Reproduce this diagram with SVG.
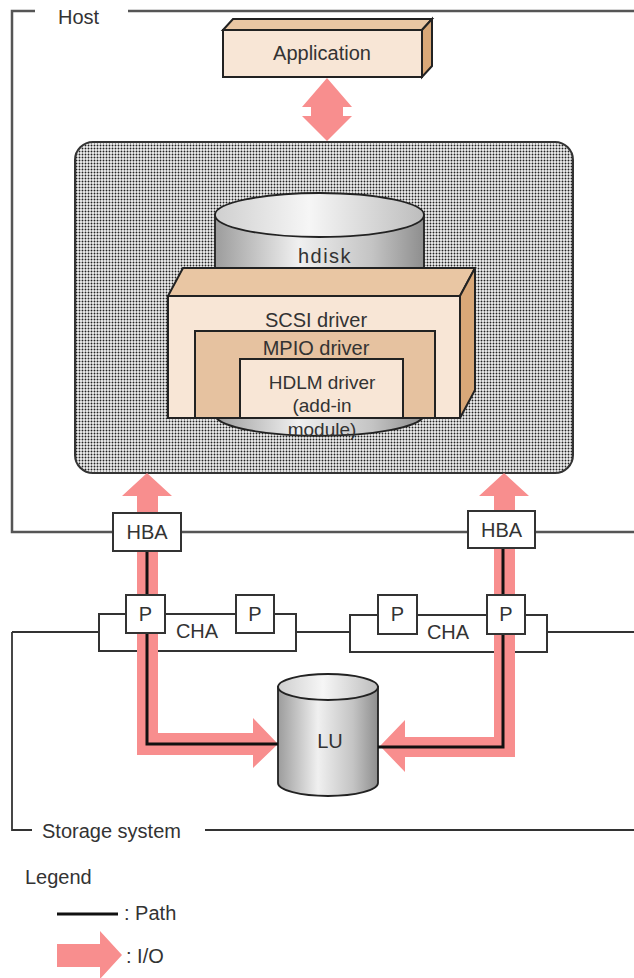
<svg xmlns="http://www.w3.org/2000/svg" width="634" height="978" viewBox="0 0 634 978">
<style>
text{font-family:"Liberation Sans",Arial,sans-serif;font-size:20px;fill:#333}
.c{text-anchor:middle}
.sm{font-size:19px}
.frame{fill:none;stroke:#555;stroke-width:2.5}
.sline{fill:none;stroke:#333;stroke-width:1.8}
.box{fill:#fff;stroke:#333;stroke-width:2}
.front{fill:#f8e6d6;stroke:#222;stroke-width:2}
.top{fill:#e9c6a3;stroke:#222;stroke-width:2}
.side{fill:#d9a878;stroke:#222;stroke-width:2}
.io{fill:#f88e8e}
.path{fill:none;stroke:#111;stroke-width:3}
</style>
<defs>
<pattern id="dots" width="3" height="3" patternUnits="userSpaceOnUse">
<rect width="3" height="3" fill="#f2f2f2"/>
<circle cx="1.5" cy="1.5" r="0.95" fill="#222"/>
</pattern>
<linearGradient id="cylBody" x1="0" y1="0" x2="1" y2="0">
<stop offset="0" stop-color="#9c9c9c"/>
<stop offset="0.4" stop-color="#f0f0f0"/>
<stop offset="0.75" stop-color="#c4c4c4"/>
<stop offset="1" stop-color="#8e8e8e"/>
</linearGradient>
<linearGradient id="cylTop" x1="0" y1="0" x2="1" y2="0">
<stop offset="0" stop-color="#cfcfcf"/>
<stop offset="0.45" stop-color="#f6f6f6"/>
<stop offset="1" stop-color="#bdbdbd"/>
</linearGradient>
</defs>

<g id="host-frame">
<path class="frame" d="M35,11 H12 V532 H113 M181,532 H468 M535,532 H634 M128,11 H634"/>
<text x="58" y="24">Host</text>
</g>

<g id="storage-frame">
<path class="sline" d="M12,632 V830 H32 M205,830 H634 M12,632 H99 M296,632 H350 M547,632 H634"/>
<text x="42" y="838">Storage system</text>
</g>

<g id="application">
<polygon class="top" points="223,30 233,19 432,19 422,30"/>
<polygon class="side" points="422,30 432,19 432,66 422,77"/>
<rect class="front" x="223" y="30" width="199" height="47"/>
<text class="c" x="322" y="60">Application</text>
</g>

<g id="kernel">
<rect x="75" y="142" width="498" height="331" rx="18" ry="18" fill="url(#dots)" stroke="#333" stroke-width="2"/>
</g>

<g id="hdisk">
<path d="M215,215 V416 A105,22 0 0 0 424,416 V215 Z" fill="url(#cylBody)" stroke="#222" stroke-width="1.8"/>
<ellipse cx="319.5" cy="215" rx="104.5" ry="22" fill="url(#cylTop)" stroke="#222" stroke-width="1.8"/>
<text class="c" x="325" y="263" style="letter-spacing:1.5px">hdisk</text>
</g>

<g id="scsi-driver">
<polygon class="top" points="168,296 183,268 475,268 460,296"/>
<polygon class="side" points="460,296 475,268 475,390 460,418"/>
<rect class="front" x="168" y="296" width="292" height="122"/>
<text class="c" x="316" y="327">SCSI driver</text>
</g>

<g id="mpio-driver">
<rect x="195" y="331" width="240" height="87" fill="#e6c2a0" stroke="#222" stroke-width="2"/>
<text class="c" x="316" y="355">MPIO driver</text>
</g>

<g id="hdlm-driver">
<rect class="front" x="240" y="359" width="163" height="59"/>
<text class="c sm" x="322" y="389">HDLM driver</text>
<text class="c sm" x="322" y="412">(add-in</text>
<text class="c sm" x="322" y="436">module)</text>
</g>

<g id="cha-left">
<rect class="box" x="99" y="614" width="197" height="37" stroke-width="1.8"/>
<text class="c" x="197" y="638">CHA</text>
</g>
<g id="cha-right">
<rect class="box" x="350" y="615" width="197" height="37" stroke-width="1.8"/>
<text class="c" x="448" y="639">CHA</text>
</g>

<g id="lu">
<path d="M278,687 V783 A50,13 0 0 0 378,783 V687 Z" fill="url(#cylBody)" stroke="#222" stroke-width="1.8"/>
<ellipse cx="328" cy="687" rx="50" ry="13" fill="url(#cylTop)" stroke="#222" stroke-width="1.8"/>
<text class="c" x="330" y="748">LU</text>
</g>

<g id="connectors">
<polygon class="io" points="327,78 352,107 343,107 343,116 352,116 327,141 302,116 311,116 311,107 302,107"/>
<polygon class="io" points="147,473 172,496 158,496 158,733 253,733 253,718 278,744 253,768 253,755 137,755 137,496 122,496"/>
<polygon class="io" points="504,473 529,496 515,496 515,757 405,757 405,772 380,746 405,720 405,737 494,737 494,496 479,496"/>
<path class="path" d="M147,551 V744 H278"/>
<path class="path" d="M503,548 V747 H378"/>
</g>

<g id="hba-left">
<rect class="box" x="113" y="513" width="68" height="38"/>
<text class="c" x="147" y="539">HBA</text>
</g>
<g id="hba-right">
<rect class="box" x="468" y="511" width="67" height="37"/>
<text class="c" x="501.5" y="537">HBA</text>
</g>

<g id="p1"><rect class="box" x="126" y="595" width="39" height="38"/><text class="c" x="145.5" y="621">P</text></g>
<g id="p2"><rect class="box" x="236" y="595" width="38" height="38"/><text class="c" x="255" y="621">P</text></g>
<g id="p3"><rect class="box" x="378" y="595" width="39" height="39"/><text class="c" x="397.5" y="621">P</text></g>
<g id="p4"><rect class="box" x="487" y="595" width="38" height="39"/><text class="c" x="506" y="621">P</text></g>

<g id="legend">
<text x="25" y="884">Legend</text>
<line x1="57" y1="914" x2="118" y2="914" stroke="#111" stroke-width="3"/>
<text x="124" y="920">: Path</text>
<polygon class="io" points="57,944 100,944 100,931 122,955 100,979 100,967 57,967"/>
<text x="126" y="963">: I/O</text>
</g>
</svg>
